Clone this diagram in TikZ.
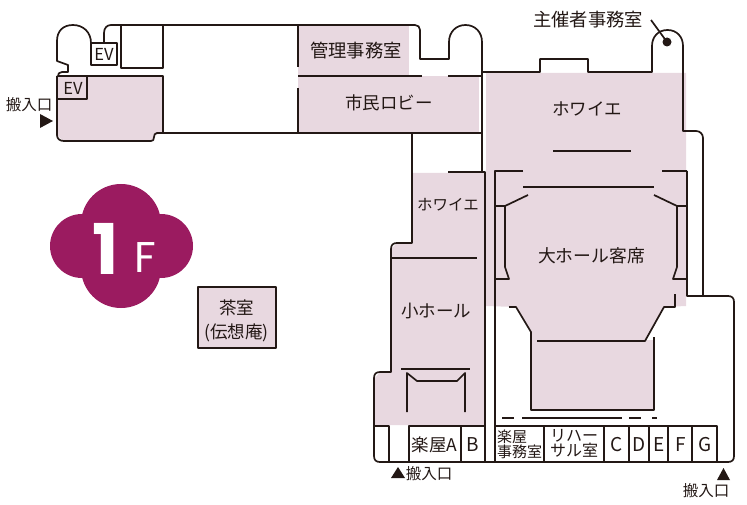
\documentclass[tikz,border=0pt]{standalone}
\usepackage{fontspec}
\setmainfont{Noto Sans CJK JP}
\newfontfamily\latinf{Poppins}
\definecolor{ink}{HTML}{231815}
\definecolor{rose}{HTML}{E8D8E0}
\definecolor{plum}{HTML}{9B1B60}
\tikzset{
  wall/.style={draw=ink,line width=1.7pt,line join=round},
  pinkfill/.style={fill=rose,draw=none},
  lbl/.style={text=ink,inner sep=0pt,font=\fontsize{17.5}{20}\selectfont},
  small/.style={text=ink,inner sep=0pt,font=\fontsize{15.5}{17}\selectfont},
  arrowmark/.style={fill=ink,draw=none}
}
\begin{document}
\begin{tikzpicture}[x=1pt,y=-1pt]
\useasboundingbox (0,0) rectangle (747,505);
% pink areas
\fill[rose] (298,26) rectangle (409,76);
\fill[rose] (298,76) rectangle (479,132);
\fill[rose] (58,76) -- (163,76) -- (163,133) -- (155,135) -- (153,141) -- (63,141) -- (58,136) -- cycle;
\fill[rose] (486,73) -- (686,73) -- (686,306) -- (664,307) -- (646,340) -- (654,340) -- (654,410) -- (532,410) -- (532,332) -- (516,307) -- (486,306) -- cycle;
\fill[rose] (413,173) -- (484,173) -- (484,425) -- (375,425) -- (375,378) -- (380,372) -- (391,372) -- (391,249) -- (396,244) -- (413,244) -- cycle;
% left wing outline
\draw[wall] (91,43) .. controls (91,32) and (83,25) .. (73,25) .. controls (63,25) and (57,31) .. (57,41)
  -- (57,61) -- (68,65) -- (68,72) -- (62,72) .. controls (59,72) and (58,74) .. (58,76);
\draw[wall] (104,43) -- (104,33) .. controls (104,28) and (107,25) .. (111,25) -- (415,25)
  .. controls (418,25) and (420,27) .. (420,30) -- (420,59) -- (449,59) -- (449,42)
  .. controls (449,32) and (456,25) .. (465.5,25) .. controls (475,25) and (482,32) .. (482,42)
  -- (482,172);
\draw[wall] (482,72) -- (540,72) -- (540,59) -- (588,59) -- (588,72) -- (652,72) -- (652,46)
  .. controls (652,37) and (658,30) .. (667.5,30) .. controls (677,30) and (683,37) .. (683,46)
  -- (683,131) -- (696,131) .. controls (700,131) and (703,134) .. (703,138) -- (703,296);
\draw[wall] (687,171) -- (687,296) -- (728,296) .. controls (732,296) and (734,298) .. (734,302)
  -- (734,456) .. controls (734,460) and (732,462) .. (728,462) -- (380,462)
  .. controls (376,462) and (374,460) .. (374,456) -- (374,378) .. controls (374,374) and (376,372) .. (380,372)
  -- (391,372) -- (391,249) .. controls (391,245) and (393,243) .. (397,243) -- (412,243) -- (412,133);
\draw[wall] (58,76) -- (163,76) -- (163,133) -- (157,133) .. controls (155,133) and (154,135) .. (154,137)
  .. controls (154,140) and (153,141) .. (151,141) -- (64,141) .. controls (60,141) and (57,139) .. (57,135) -- (57,76);
\draw[wall] (163,133) -- (482,133);
\draw[wall] (298,25) -- (298,67);
\draw[wall] (298,88) -- (298,133);
\draw[wall] (298,76) -- (422,76);
\draw[wall] (448,76) -- (482,76);
\draw[wall] (121,25) -- (121,68) -- (163,68) -- (163,25);
\draw[wall] (91,43) rectangle (117,65);
\draw[wall] (58,76) -- (87,76) -- (87,99) -- (58,99);
% small hall
\draw[wall] (448,172) -- (485,172) -- (485,462);
\draw[wall] (391,258) -- (477,258);
\draw[wall] (401,369) -- (470,369);
\draw[wall] (407,412) -- (407,373) -- (417,381) -- (457,381) -- (465,373) -- (465,412);
% big hall
\draw[wall] (523,171) -- (495,171) -- (495,462);
\draw[wall] (662,171) -- (687,171);
\draw[wall] (553,151) -- (631,151);
\draw[wall] (523,187) -- (654,187);
\draw[wall] (495,206) -- (505,206) -- (528,195);
\draw[wall] (505,206) -- (505,267) -- (509,279) -- (495,279);
\draw[wall] (654,195) -- (677,206) -- (687,206);
\draw[wall] (677,206) -- (677,267) -- (673,279) -- (687,279);
\draw[wall] (675,294) -- (675,307) -- (664,307) -- (645,341) -- (537,341);
\draw[wall] (509,307) -- (516,307) -- (531,332) -- (531,410) -- (654,410) -- (654,337);
% dashes
\draw[wall] (502,418) -- (514,418);
\draw[wall] (522,418) -- (622,418);
\draw[wall] (629,418) -- (641,418);
\draw[wall] (652,418) -- (657,418);
% back rooms
\draw[wall] (374,426) -- (389,426) -- (389,462);
\draw[wall] (409,462) -- (409,426) -- (485,426);
\draw[wall] (461,426) -- (461,462);
\draw[wall] (495,426) -- (717,426) -- (717,462);
\draw[wall] (544,426) -- (544,462);
\draw[wall] (604,426) -- (604,462);
\draw[wall] (629,426) -- (629,462);
\draw[wall] (649,426) -- (649,462);
\draw[wall] (668,426) -- (668,462);
\draw[wall] (692,426) -- (692,462);
% tea room
\draw[pinkfill] (198,287) rectangle (276,348);
\draw[wall] (198,287) rectangle (276,348);
% floor badge
\fill[plum] (121,224) circle (40) (121,268) circle (40) (82,246) circle (32) (161,246) circle (32);
\node[inner sep=0pt,text=white,font=\latinf\bfseries\fontsize{70}{72}\selectfont] (one) at (106,249) {1};
\node[inner sep=0pt,text=white,font=\latinf\fontsize{43}{45}\selectfont] (eff) at (145,258) {F};
% markers
\fill[arrowmark] (40,114) -- (53,121) -- (40,128) -- cycle;
\fill[arrowmark] (391,478) -- (398,467) -- (405,478) -- cycle;
\fill[arrowmark] (717,480) -- (723.5,468) -- (730,480) -- cycle;
\fill[ink] (667,42) circle (4.5);
\draw[ink,line width=1.7pt] (651,20) -- (667,42);
% labels
\node[lbl,font=\fontsize{18.3}{20}\selectfont] (host) at (588,20) {主催者事務室};
\node[lbl,font=\fontsize{18.3}{20}\selectfont] (kanri) at (356,51) {管理事務室};
\node[lbl] (lobby) at (389,103) {市民ロビー};
\node[lbl] (foy1) at (587,109) {ホワイエ};
\node[lbl] (foy2) at (448,205) {\fontsize{15.5}{17}\selectfont ホワイエ};
\node[lbl,font=\fontsize{17.8}{20}\selectfont] (hall) at (591.5,256) {大ホール客席};
\node[lbl] (shall) at (436,311) {小ホール};
\node[lbl,font=\fontsize{16.5}{18}\selectfont] (ev1) at (104,54) {EV};
\node[lbl,font=\fontsize{16.5}{18}\selectfont] (ev2) at (73,88) {EV};
\node[small] (in1) at (29,105) {搬入口};
\node[small] (in2) at (429,474) {搬入口};
\node[small] (in3) at (706,491) {搬入口};
\node[lbl,font=\fontsize{17.5}{18}\selectfont] (ga) at (434.5,445) {楽屋A};
\node[lbl,font=\fontsize{19}{20}\selectfont] (gb) at (473,445) {B};
\node[lbl,font=\fontsize{15}{17}\selectfont,align=left] (gj) at (519.5,444.5) {楽屋\\[-1.5pt]事務室};
\node[lbl,font=\fontsize{16}{15}\selectfont,align=left] (gr) at (574,443.5) {リハー\\サル室};
\node[lbl,font=\fontsize{19}{20}\selectfont] (gc) at (617,445) {C};
\node[lbl,font=\fontsize{19}{20}\selectfont] (gd) at (639,445) {D};
\node[lbl,font=\fontsize{19}{20}\selectfont] (ge) at (659,445) {E};
\node[lbl,font=\fontsize{19}{20}\selectfont] (gf) at (681,445) {F};
\node[lbl,font=\fontsize{19}{20}\selectfont] (gg) at (705,445) {G};
\node[lbl] (tea1) at (236.5,308) {茶室};
\node[lbl] (tea2) at (236.5,333) {(伝想庵)};
\end{tikzpicture}
\end{document}
